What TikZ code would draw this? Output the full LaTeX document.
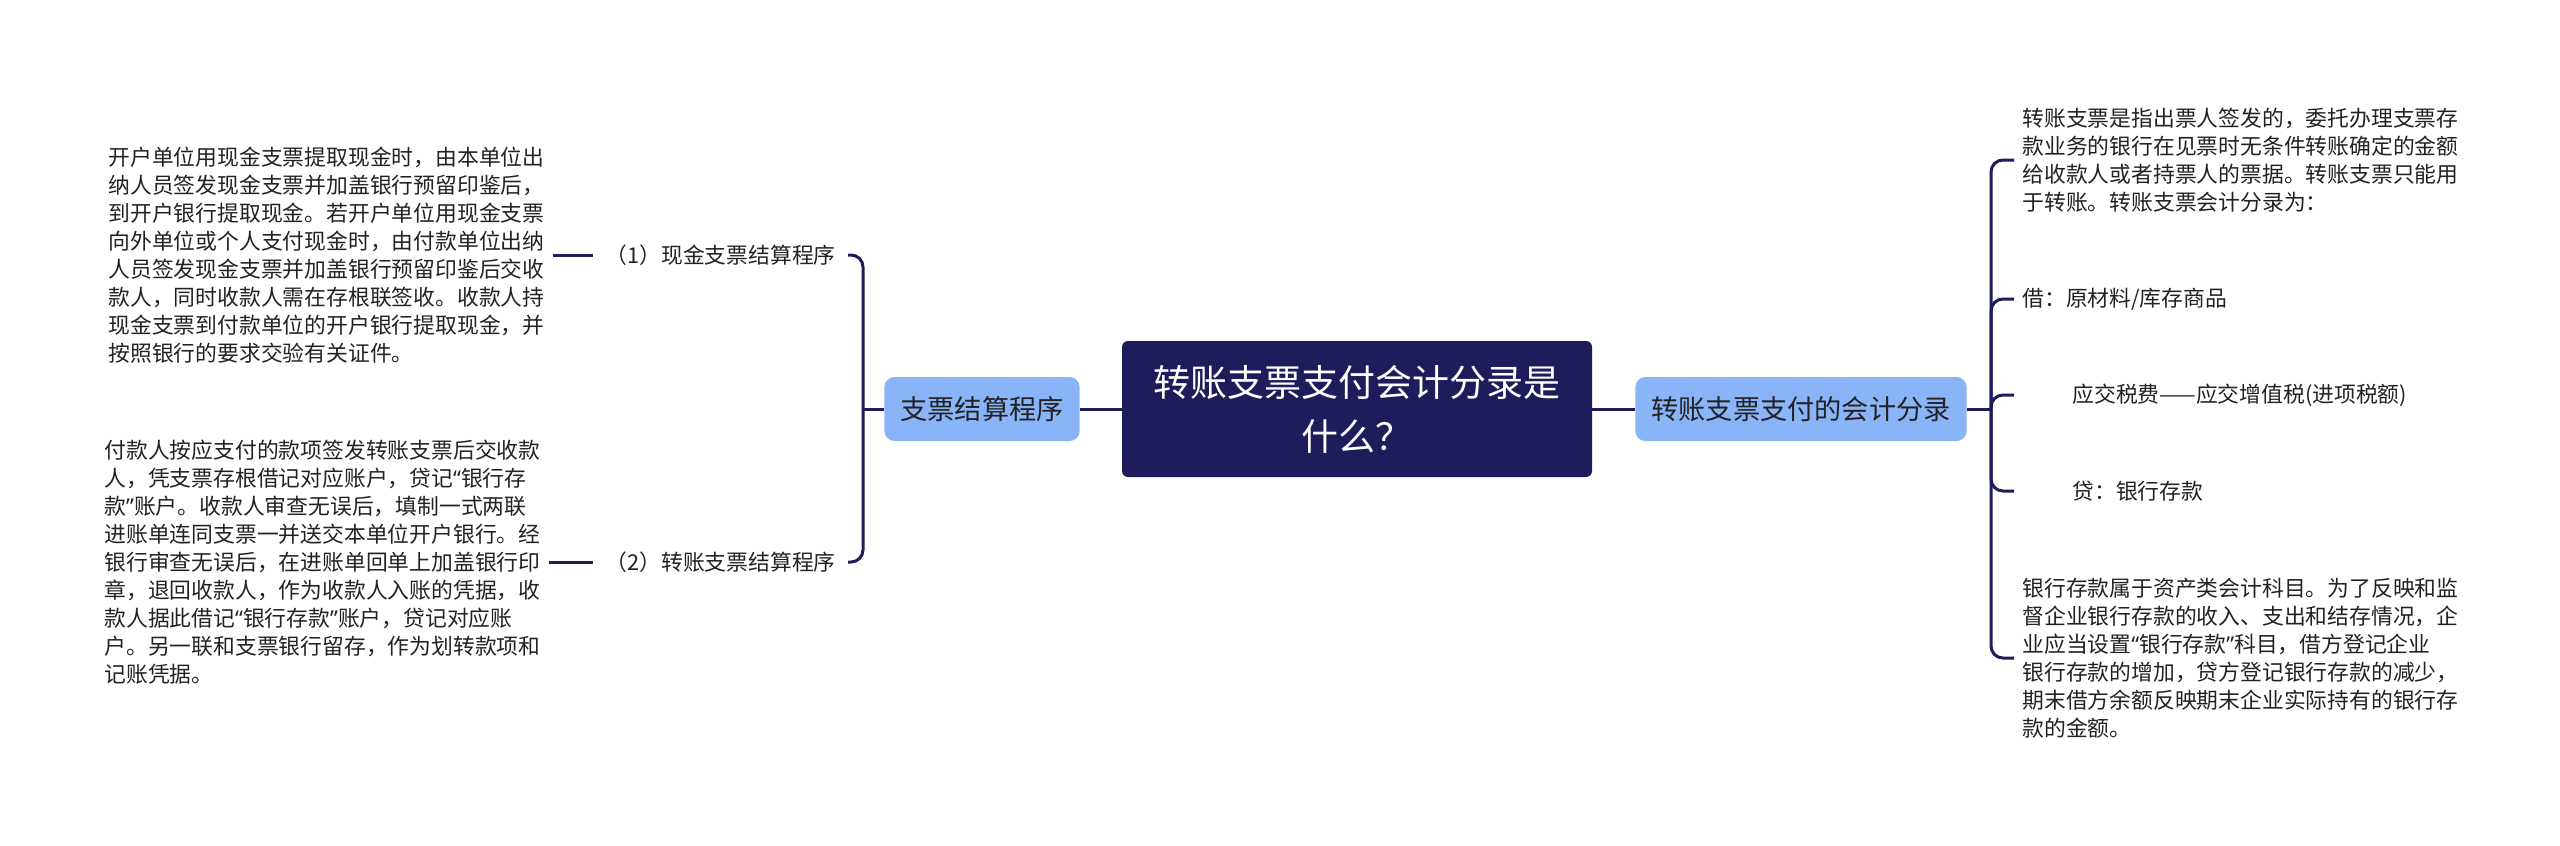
\documentclass[tikz,border=0pt]{standalone}
\usepackage{fontspec}
\setmainfont{Noto Sans CJK SC}
\newfontfamily\quotefont{Noto Sans}

\definecolor{mapnavy}{HTML}{1E1C5A}
\definecolor{mapblue}{HTML}{8AB4F8}
\definecolor{mapink}{HTML}{222222}

\def \linkwidth {1.5pt}
\def \leafsize {\fontsize{10.9pt}{14pt}\selectfont}
\def \indentgap {25pt}
\def \qleft {{\quotefont “}}
\def \qright {{\quotefont ”}}

\tikzset{
  root/.style={fill=mapnavy, text=white, rounded corners=3pt, minimum width=235pt,
    minimum height=68pt, align=center, font=\fontsize{18.5pt}{27pt}\selectfont},
  topic/.style={fill=mapblue, text=mapink, rounded corners=5pt, minimum height=32pt,
    inner xsep=8pt, font=\fontsize{13.6pt}{16pt}\selectfont},
  leaf/.style={text=mapink, inner xsep=4pt, inner ysep=2pt, align=left, font=\leafsize},
  link/.style={draw=mapnavy, line width=\linkwidth, rounded corners=6pt},
}

\begin{document}
\begin{tikzpicture}[x=0.5pt, y=-0.5pt]
\useasboundingbox (0,0) rectangle (2560,846);

% centre and the two topics
\node[root] (root) at (1357,409) {转账支票支付会计分录是\\什么？};
\node[topic] (kl) at (982,409) {支票结算程序};
\node[topic] (kr) at (1801,409) {转账支票支付的会计分录};
\draw[link] (root.west) -- (kl.east);
\draw[link] (root.east) -- (kr.west);

% left side
\node[leaf, anchor=east, inner xsep=6pt] (c1) at (848,255) {（1）现金支票结算程序};
\node[leaf, anchor=east, inner xsep=6pt] (c2) at (848,562) {（2）转账支票结算程序};
\node[leaf, anchor=west] (t1) at (100,255) {开户单位用现金支票提取现金时，由本单位出\\
纳人员签发现金支票并加盖银行预留印鉴后，\\
到开户银行提取现金。若开户单位用现金支票\\
向外单位或个人支付现金时，由付款单位出纳\\
人员签发现金支票并加盖银行预留印鉴后交收\\
款人，同时收款人需在存根联签收。收款人持\\
现金支票到付款单位的开户银行提取现金，并\\
按照银行的要求交验有关证件。};
\node[leaf, anchor=west] (t2) at (96,562) {付款人按应支付的款项签发转账支票后交收款\\
人，凭支票存根借记对应账户，贷记\qleft 银行存\\
款\qright 账户。收款人审查无误后，填制一式两联\\
进账单连同支票一并送交本单位开户银行。经\\
银行审查无误后，在进账单回单上加盖银行印\\
章，退回收款人，作为收款人入账的凭据，收\\
款人据此借记\qleft 银行存款\qright 账户，贷记对应账\\
户。另一联和支票银行留存，作为划转款项和\\
记账凭据。};
\coordinate (jl) at (863,409);
\draw[link] (kl.west) -- (jl);
\draw[link] (jl) |- (c1.east);
\draw[link] (jl) |- (c2.east);
\draw[link] (t1.east) -- (c1.west);
\draw[link] (t2.east) -- (c2.west);

% right side
\node[leaf, anchor=west] (r1) at (2014,160) {转账支票是指出票人签发的，委托办理支票存\\
款业务的银行在见票时无条件转账确定的金额\\
给收款人或者持票人的票据。转账支票只能用\\
于转账。转账支票会计分录为：};
\node[leaf, anchor=west] (r2) at (2014,299) {借：原材料/库存商品};
\node[leaf, anchor=west] (r3) at (2014,395) {\hspace*{\indentgap}应交税费——应交增值税(进项税额)};
\node[leaf, anchor=west] (r4) at (2014,491) {\hspace*{\indentgap}贷：银行存款};
\node[leaf, anchor=west] (r5) at (2014,658) {银行存款属于资产类会计科目。为了反映和监\\
督企业银行存款的收入、支出和结存情况，企\\
业应当设置\qleft 银行存款\qright 科目，借方登记企业\\
银行存款的增加，贷方登记银行存款的减少，\\
期末借方余额反映期末企业实际持有的银行存\\
款的金额。};
\coordinate (jr) at (1991,409);
\draw[link] (kr.east) -- (jr);
\foreach \n in {r1,r2,r3,r4,r5}
  \draw[link] (jr) |- (\n.west);
\end{tikzpicture}
\end{document}
